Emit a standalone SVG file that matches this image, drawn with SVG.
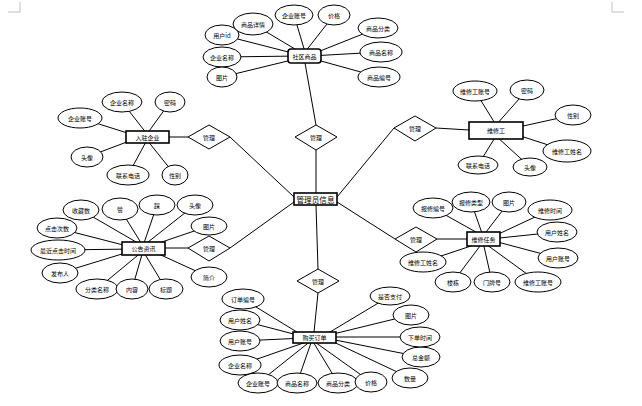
<svg xmlns="http://www.w3.org/2000/svg" width="642" height="406" viewBox="0 0 642 406">
<style>
.e{fill:#fff;stroke:#000;stroke-width:1}
.b{fill:#fff;stroke:#000;stroke-width:1.6}
.d{fill:#fff;stroke:#000;stroke-width:1}
.l{stroke:#000;stroke-width:1;fill:none}
.m{stroke:#b0b0b0;stroke-width:0.8;fill:none}
text{font-family:"Noto Sans CJK SC","Noto Sans",sans-serif;font-size:6px;text-anchor:middle;dominant-baseline:central;fill:#000}
.c{font-size:7.6px}
</style>
<rect width="642" height="406" fill="#fff"/>
<g id="page-marks">
<path class="m" d="M20 2V12H8"/>
<path class="m" d="M612 2V12H624"/>
</g>
<g id="connectors">
<line class="l" x1="316" y1="193" x2="316" y2="150"/>
<line class="l" x1="316" y1="125" x2="305" y2="63"/>
<line class="l" x1="294" y1="197" x2="230" y2="137"/>
<line class="l" x1="188" y1="137" x2="169" y2="137"/>
<line class="l" x1="337" y1="197" x2="394" y2="128"/>
<line class="l" x1="436" y1="128" x2="469" y2="130"/>
<line class="l" x1="294" y1="202" x2="230" y2="248"/>
<line class="l" x1="188" y1="248" x2="165" y2="248"/>
<line class="l" x1="337" y1="202" x2="395" y2="239"/>
<line class="l" x1="437" y1="239" x2="467" y2="239"/>
<line class="l" x1="316" y1="205" x2="318" y2="269"/>
<line class="l" x1="318" y1="293" x2="314" y2="332"/>
<line class="l" x1="253" y1="24" x2="300" y2="52"/>
<line class="l" x1="294" y1="15" x2="305" y2="52"/>
<line class="l" x1="334" y1="15" x2="305" y2="52"/>
<line class="l" x1="222" y1="35" x2="300" y2="55"/>
<line class="l" x1="222" y1="57" x2="300" y2="56"/>
<line class="l" x1="222" y1="77" x2="300" y2="58"/>
<line class="l" x1="378" y1="28" x2="310" y2="55"/>
<line class="l" x1="381" y1="52" x2="310" y2="56"/>
<line class="l" x1="379" y1="77" x2="310" y2="58"/>
<line class="l" x1="122" y1="102" x2="147" y2="134"/>
<line class="l" x1="170" y1="102" x2="147" y2="134"/>
<line class="l" x1="80" y1="118" x2="140" y2="137"/>
<line class="l" x1="87" y1="157" x2="140" y2="137"/>
<line class="l" x1="128" y1="175" x2="147" y2="140"/>
<line class="l" x1="175" y1="175" x2="147" y2="140"/>
<line class="l" x1="475" y1="91" x2="496" y2="125"/>
<line class="l" x1="527" y1="90" x2="496" y2="125"/>
<line class="l" x1="573" y1="115" x2="505" y2="130"/>
<line class="l" x1="567" y1="151" x2="505" y2="131"/>
<line class="l" x1="478" y1="165" x2="496" y2="136"/>
<line class="l" x1="530" y1="167" x2="496" y2="136"/>
<line class="l" x1="81" y1="210" x2="143" y2="246"/>
<line class="l" x1="120" y1="209" x2="143" y2="246"/>
<line class="l" x1="157" y1="205" x2="143" y2="246"/>
<line class="l" x1="195" y1="205" x2="143" y2="246"/>
<line class="l" x1="209" y1="226" x2="150" y2="246"/>
<line class="l" x1="57" y1="228" x2="135" y2="248"/>
<line class="l" x1="58" y1="250" x2="135" y2="249"/>
<line class="l" x1="60" y1="273" x2="135" y2="250"/>
<line class="l" x1="97" y1="289" x2="143" y2="251"/>
<line class="l" x1="132" y1="289" x2="143" y2="251"/>
<line class="l" x1="166" y1="289" x2="143" y2="251"/>
<line class="l" x1="209" y1="277" x2="150" y2="250"/>
<line class="l" x1="433" y1="208" x2="483" y2="236"/>
<line class="l" x1="471" y1="202" x2="483" y2="236"/>
<line class="l" x1="509" y1="202" x2="483" y2="236"/>
<line class="l" x1="550" y1="210" x2="490" y2="238"/>
<line class="l" x1="557" y1="232" x2="490" y2="239"/>
<line class="l" x1="558" y1="258" x2="490" y2="240"/>
<line class="l" x1="423" y1="262" x2="483" y2="242"/>
<line class="l" x1="453" y1="282" x2="483" y2="242"/>
<line class="l" x1="492" y1="282" x2="483" y2="242"/>
<line class="l" x1="538" y1="282" x2="483" y2="242"/>
<line class="l" x1="243" y1="299" x2="305" y2="337"/>
<line class="l" x1="240" y1="320" x2="305" y2="337"/>
<line class="l" x1="240" y1="341" x2="305" y2="338"/>
<line class="l" x1="240" y1="365" x2="312" y2="340"/>
<line class="l" x1="258" y1="383" x2="312" y2="340"/>
<line class="l" x1="297" y1="383" x2="312" y2="340"/>
<line class="l" x1="338" y1="383" x2="312" y2="340"/>
<line class="l" x1="371" y1="382" x2="312" y2="340"/>
<line class="l" x1="410" y1="378" x2="325" y2="338"/>
<line class="l" x1="421" y1="357" x2="325" y2="338"/>
<line class="l" x1="420" y1="337" x2="325" y2="337"/>
<line class="l" x1="411" y1="315" x2="325" y2="336"/>
<line class="l" x1="390" y1="296" x2="325" y2="335"/>
</g>
<g id="admin"><rect class="b" x="294" y="193" width="43" height="12" stroke-width="2"/><text class="c" x="315.5" y="199.5">管理员信息</text></g>
<g id="d-top"><polygon class="d" points="316,125 337,137 316,150 295,137"/><text x="316" y="137.5">管理</text></g>
<g id="d-lu"><polygon class="d" points="209,125 230,137 209,149 188,137"/><text x="209" y="137.5">管理</text></g>
<g id="d-ru"><polygon class="d" points="415,116 436,128 415,141 394,128"/><text x="415" y="128.5">管理</text></g>
<g id="d-ll"><polygon class="d" points="209,236 230,248 209,261 188,248"/><text x="209" y="248.5">管理</text></g>
<g id="d-rl"><polygon class="d" points="416,227 437,239 416,252 395,239"/><text x="416" y="239.5">管理</text></g>
<g id="d-bottom"><polygon class="d" points="318,269 339,281 318,293 297,281"/><text x="318" y="281.5">管理</text></g>
<g id="goods">
<rect class="b" x="288" y="49" width="33" height="14" rx="3"/><text x="304.5" y="56.5">社区商品</text>
<ellipse class="e" cx="253" cy="24" rx="20" ry="11"/><text x="253" y="24.5">商品详情</text>
<ellipse class="e" cx="294" cy="15" rx="19" ry="10"/><text x="294" y="15.5">企业账号</text>
<ellipse class="e" cx="334" cy="15" rx="16" ry="10"/><text x="334" y="15.5">价格</text>
<ellipse class="e" cx="222" cy="35" rx="17" ry="10"/><text x="222" y="35.5">用户id</text>
<ellipse class="e" cx="378" cy="28" rx="20" ry="10"/><text x="378" y="28.5">商品分类</text>
<ellipse class="e" cx="222" cy="57" rx="19" ry="10"/><text x="222" y="57.5">企业名称</text>
<ellipse class="e" cx="381" cy="52" rx="21" ry="10"/><text x="381" y="52.5">商品名称</text>
<ellipse class="e" cx="222" cy="77" rx="15" ry="10"/><text x="222" y="77.5">图片</text>
<ellipse class="e" cx="379" cy="77" rx="21" ry="10"/><text x="379" y="77.5">商品编号</text>
</g>
<g id="enterprise">
<rect class="b" x="126" y="131" width="43" height="12"/><text x="147.5" y="137.5">入驻企业</text>
<ellipse class="e" cx="122" cy="102" rx="20" ry="10"/><text x="122" y="102.5">企业名称</text>
<ellipse class="e" cx="170" cy="102" rx="15" ry="10"/><text x="170" y="102.5">密码</text>
<ellipse class="e" cx="80" cy="118" rx="22" ry="10"/><text x="80" y="118.5">企业账号</text>
<ellipse class="e" cx="87" cy="157" rx="16" ry="10"/><text x="87" y="157.5">头像</text>
<ellipse class="e" cx="128" cy="175" rx="21" ry="10"/><text x="128" y="175.5">联系电话</text>
<ellipse class="e" cx="175" cy="175" rx="13" ry="10"/><text x="175" y="175.5">性别</text>
</g>
<g id="worker">
<rect class="b" x="469" y="122" width="54" height="17" stroke="#444"/><text x="496" y="130.5">维修工</text>
<ellipse class="e" cx="475" cy="91" rx="22" ry="10"/><text x="475" y="91.5">维修工账号</text>
<ellipse class="e" cx="527" cy="90" rx="17" ry="10"/><text x="527" y="90.5">密码</text>
<ellipse class="e" cx="573" cy="115" rx="18" ry="10"/><text x="573" y="115.5">性别</text>
<ellipse class="e" cx="567" cy="151" rx="24" ry="11"/><text x="567" y="151.5">维修工姓名</text>
<ellipse class="e" cx="478" cy="165" rx="20" ry="9"/><text x="478" y="165.5">联系电话</text>
<ellipse class="e" cx="530" cy="167" rx="17" ry="9"/><text x="530" y="167.5">头像</text>
</g>
<g id="notice">
<rect class="b" x="122" y="242" width="43" height="13"/><text x="143.5" y="248.5">公告资讯</text>
<ellipse class="e" cx="81" cy="210" rx="18" ry="10"/><text x="81" y="210.5">收藏数</text>
<ellipse class="e" cx="120" cy="209" rx="18" ry="11"/><text x="120" y="209.5">赞</text>
<ellipse class="e" cx="157" cy="205" rx="18" ry="10"/><text x="157" y="205.5">踩</text>
<ellipse class="e" cx="195" cy="205" rx="18" ry="10"/><text x="195" y="205.5">头像</text>
<ellipse class="e" cx="209" cy="226" rx="18" ry="9"/><text x="209" y="226.5">图片</text>
<ellipse class="e" cx="57" cy="228" rx="20" ry="10"/><text x="57" y="228.5">点击次数</text>
<ellipse class="e" cx="58" cy="250" rx="27" ry="10"/><text x="58" y="250.5">最近点击时间</text>
<ellipse class="e" cx="60" cy="273" rx="18" ry="10"/><text x="60" y="273.5">发布人</text>
<ellipse class="e" cx="97" cy="289" rx="21" ry="10"/><text x="97" y="289.5">分类名称</text>
<ellipse class="e" cx="132" cy="289" rx="16" ry="10"/><text x="132" y="289.5">内容</text>
<ellipse class="e" cx="166" cy="289" rx="17" ry="10"/><text x="166" y="289.5">标题</text>
<ellipse class="e" cx="209" cy="277" rx="18" ry="10"/><text x="209" y="277.5">简介</text>
</g>
<g id="repair">
<rect class="b" x="467" y="232" width="33" height="14"/><text x="483.5" y="239.5">维修任务</text>
<ellipse class="e" cx="433" cy="208" rx="20" ry="10"/><text x="433" y="208.5">报修编号</text>
<ellipse class="e" cx="471" cy="202" rx="19" ry="10"/><text x="471" y="202.5">报修类型</text>
<ellipse class="e" cx="509" cy="202" rx="17" ry="10"/><text x="509" y="202.5">图片</text>
<ellipse class="e" cx="550" cy="210" rx="22" ry="10"/><text x="550" y="210.5">维修时间</text>
<ellipse class="e" cx="557" cy="232" rx="20" ry="10"/><text x="557" y="232.5">用户姓名</text>
<ellipse class="e" cx="558" cy="258" rx="20" ry="10"/><text x="558" y="258.5">用户账号</text>
<ellipse class="e" cx="423" cy="262" rx="23" ry="10"/><text x="423" y="262.5">维修工姓名</text>
<ellipse class="e" cx="453" cy="282" rx="18" ry="10"/><text x="453" y="282.5">楼栋</text>
<ellipse class="e" cx="492" cy="282" rx="18" ry="10"/><text x="492" y="282.5">门牌号</text>
<ellipse class="e" cx="538" cy="282" rx="23" ry="10"/><text x="538" y="282.5">维修工账号</text>
</g>
<g id="order">
<rect class="b" x="293" y="332" width="43" height="11"/><text x="314.5" y="337.5">购买订单</text>
<ellipse class="e" cx="243" cy="299" rx="21" ry="10"/><text x="243" y="299.5">订单编号</text>
<ellipse class="e" cx="240" cy="320" rx="20" ry="10"/><text x="240" y="320.5">用户姓名</text>
<ellipse class="e" cx="240" cy="341" rx="20" ry="10"/><text x="240" y="341.5">用户账号</text>
<ellipse class="e" cx="240" cy="365" rx="21" ry="10"/><text x="240" y="365.5">企业名称</text>
<ellipse class="e" cx="258" cy="383" rx="20" ry="10"/><text x="258" y="383.5">企业账号</text>
<ellipse class="e" cx="297" cy="383" rx="20" ry="10"/><text x="297" y="383.5">商品名称</text>
<ellipse class="e" cx="338" cy="383" rx="20" ry="10"/><text x="338" y="383.5">商品分类</text>
<ellipse class="e" cx="371" cy="382" rx="16" ry="10"/><text x="371" y="382.5">价格</text>
<ellipse class="e" cx="410" cy="378" rx="18" ry="10"/><text x="410" y="378.5">数量</text>
<ellipse class="e" cx="421" cy="357" rx="19" ry="10"/><text x="421" y="357.5">总金额</text>
<ellipse class="e" cx="420" cy="337" rx="20" ry="10"/><text x="420" y="337.5">下单时间</text>
<ellipse class="e" cx="411" cy="315" rx="18" ry="10"/><text x="411" y="315.5">图片</text>
<ellipse class="e" cx="390" cy="296" rx="20" ry="9"/><text x="390" y="296.5">是否支付</text>
</g>
</svg>
